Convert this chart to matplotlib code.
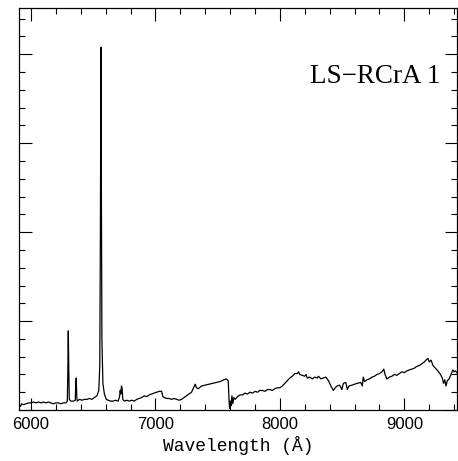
import matplotlib
matplotlib.use('Agg')
import matplotlib.pyplot as plt
from matplotlib.ticker import MultipleLocator

# spectrum: wavelength (A) and relative flux
wave = [5904, 5915, 5925, 5940, 5960, 5980, 6000, 6020, 6040, 6060, 6080, 6100,
        6120, 6140, 6160, 6180, 6200, 6220, 6240, 6260, 6280, 6292, 6296, 6300,
        6304, 6308, 6320, 6340, 6356, 6360, 6364, 6368, 6372, 6390, 6410, 6430,
        6450, 6470, 6490, 6510, 6530, 6545, 6553, 6558, 6562, 6566, 6570, 6578,
        6590, 6605, 6620, 6640, 6660, 6680, 6700, 6712, 6717, 6722, 6727, 6732,
        6738, 6750, 6770, 6790, 6810, 6830, 6850, 6870, 6890, 6910, 6930, 6950,
        6970, 6990, 7010, 7030, 7050, 7060, 7070, 7090, 7110, 7130, 7150, 7170,
        7190, 7210, 7230, 7250, 7270, 7290, 7310, 7320, 7330, 7345, 7370, 7400,
        7430, 7460, 7490, 7520, 7550, 7570, 7585, 7592, 7596, 7602, 7608, 7615,
        7622, 7630, 7640, 7660, 7680, 7700, 7720, 7740, 7760, 7780, 7800, 7820,
        7840, 7860, 7880, 7900, 7920, 7940, 7960, 7980, 8000, 8020, 8040, 8060,
        8080, 8100, 8120, 8140, 8150, 8160, 8180, 8200, 8210, 8220, 8240, 8260,
        8280, 8300, 8310, 8330, 8350, 8370, 8390, 8410, 8430, 8445, 8460, 8480,
        8498, 8510, 8530, 8542, 8555, 8580, 8600, 8620, 8650, 8662, 8670, 8680,
        8700, 8720, 8740, 8760, 8780, 8800, 8820, 8835, 8845, 8860, 8880, 8900,
        8920, 8940, 8960, 8980, 9000, 9020, 9040, 9060, 9080, 9100, 9120, 9140,
        9160, 9180, 9190, 9200, 9215, 9230, 9250, 9270, 9290, 9305, 9315, 9325,
        9335, 9345, 9360, 9375, 9390, 9400, 9410, 9422]
flux = [0.06, 0.04, 0.07, 0.06, 0.07, 0.08, 0.08, 0.09, 0.08, 0.09, 0.08, 0.09,
        0.08, 0.09, 0.08, 0.07, 0.08, 0.08, 0.07, 0.08, 0.08, 0.10, 0.40, 0.89,
        0.45, 0.12, 0.10, 0.10, 0.11, 0.30, 0.36, 0.15, 0.10, 0.12, 0.11, 0.12,
        0.12, 0.13, 0.12, 0.14, 0.16, 0.22, 0.50, 2.00, 4.08, 2.50, 0.80, 0.30,
        0.18, 0.12, 0.11, 0.10, 0.10, 0.11, 0.10, 0.15, 0.22, 0.18, 0.27, 0.25,
        0.12, 0.10, 0.11, 0.10, 0.11, 0.10, 0.12, 0.13, 0.14, 0.16, 0.15, 0.17,
        0.18, 0.19, 0.20, 0.21, 0.21, 0.15, 0.14, 0.13, 0.13, 0.12, 0.13, 0.12,
        0.11, 0.12, 0.14, 0.16, 0.18, 0.20, 0.26, 0.29, 0.25, 0.24, 0.27, 0.28,
        0.29, 0.30, 0.31, 0.32, 0.34, 0.35, 0.33, 0.10, 0.02, 0.10, 0.05, 0.16,
        0.07, 0.14, 0.12, 0.15, 0.17, 0.17, 0.19, 0.18, 0.20, 0.19, 0.21, 0.20,
        0.22, 0.22, 0.21, 0.23, 0.23, 0.22, 0.24, 0.25, 0.25, 0.27, 0.30, 0.33,
        0.36, 0.38, 0.41, 0.41, 0.43, 0.40, 0.39, 0.38, 0.40, 0.36, 0.37, 0.35,
        0.37, 0.36, 0.38, 0.35, 0.36, 0.37, 0.33, 0.27, 0.22, 0.25, 0.27, 0.28,
        0.23, 0.30, 0.31, 0.23, 0.27, 0.28, 0.29, 0.30, 0.31, 0.27, 0.37, 0.32,
        0.34, 0.35, 0.37, 0.38, 0.40, 0.41, 0.43, 0.46, 0.40, 0.35, 0.37, 0.38,
        0.40, 0.39, 0.41, 0.43, 0.42, 0.44, 0.45, 0.46, 0.47, 0.49, 0.50, 0.52,
        0.54, 0.57, 0.58, 0.54, 0.56, 0.50, 0.47, 0.44, 0.40, 0.36, 0.30, 0.34,
        0.27, 0.33, 0.35, 0.40, 0.45, 0.43, 0.44, 0.42]

title = 'LS\u2212RCrA 1'

fig = plt.figure(figsize=(4.58, 4.61), dpi=100)
ax = fig.add_axes([0.0415, 0.1106, 0.956, 0.872])
ax.plot(wave, flux, '-k', lw=0.9)
ax.set_xlim(5904, 9422)
ax.set_ylim(0, 4.52)

ax.xaxis.set_major_locator(MultipleLocator(1000))
ax.xaxis.set_minor_locator(MultipleLocator(200))
ax.yaxis.set_major_locator(MultipleLocator(1))
ax.yaxis.set_minor_locator(MultipleLocator(0.2))
ax.tick_params(which='both', direction='in', top=True, right=True, width=0.8)
ax.tick_params(which='major', length=9, pad=5, labelsize=12)
ax.tick_params(which='minor', length=4.5)
ax.tick_params(axis='y', labelleft=False)
for lab in ax.get_xticklabels():
    lab.set_family('Liberation Sans')
for s in ax.spines.values():
    s.set_linewidth(0.9)

ax.set_xlabel('Wavelength (\u00c5)', family='Liberation Mono', fontsize=13, labelpad=3)
fig.text(0.961, 0.819, title, family='Liberation Serif', fontsize=19.5,
         ha='right', va='baseline')

fig.savefig('out.png', dpi=100)
